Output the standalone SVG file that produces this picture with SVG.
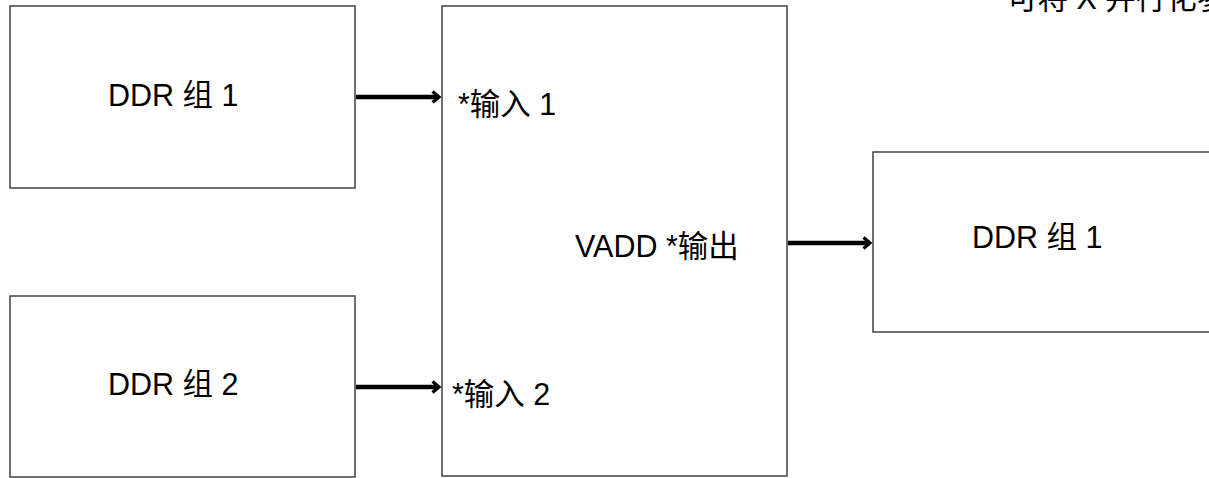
<svg xmlns="http://www.w3.org/2000/svg" width="1209" height="478" viewBox="0 0 1209 478">
<style>
.box{fill:#fff;stroke:#404040;stroke-width:1.5}
.t{font-family:"Liberation Sans","Noto Sans CJK SC",sans-serif;font-size:30.5px;fill:#000}
.c{stroke:#000;stroke-width:4.5;fill:none}
</style>
<defs>
<marker id="ah" markerWidth="12" markerHeight="14" refX="8" refY="7" orient="auto" markerUnits="userSpaceOnUse">
<path d="M1.5,1.5 L8,7 L1.5,12.5" fill="none" stroke="#000" stroke-width="3.2"/>
</marker>
</defs>
<rect width="1209" height="478" fill="#fff"/>
<text class="t" x="1007" y="9" font-size="28">可将 X  并行化参</text>
<g id="ddr1">
<rect class="box" x="10" y="6" width="345" height="182"/>
<text class="t" x="108" y="106">DDR 组 1</text>
</g>
<g id="ddr2">
<rect class="box" x="10" y="296" width="345" height="181"/>
<text class="t" x="108" y="395">DDR 组 2</text>
</g>
<g id="vadd">
<rect class="box" x="442" y="6" width="345" height="470"/>
<text class="t" x="458" y="115">*输入 1</text>
<text class="t" x="452" y="405">*输入 2</text>
<text class="t" x="575" y="257">VADD *输出</text>
</g>
<g id="ddr1out">
<rect class="box" x="873" y="152" width="345" height="180"/>
<text class="t" x="972" y="248">DDR 组 1</text>
</g>
<g id="connectors">
<line class="c" x1="356" y1="97" x2="439" y2="97" marker-end="url(#ah)"/>
<line class="c" x1="356" y1="387" x2="439" y2="387" marker-end="url(#ah)"/>
<line class="c" x1="788" y1="243" x2="870" y2="243" marker-end="url(#ah)"/>
</g>
</svg>
